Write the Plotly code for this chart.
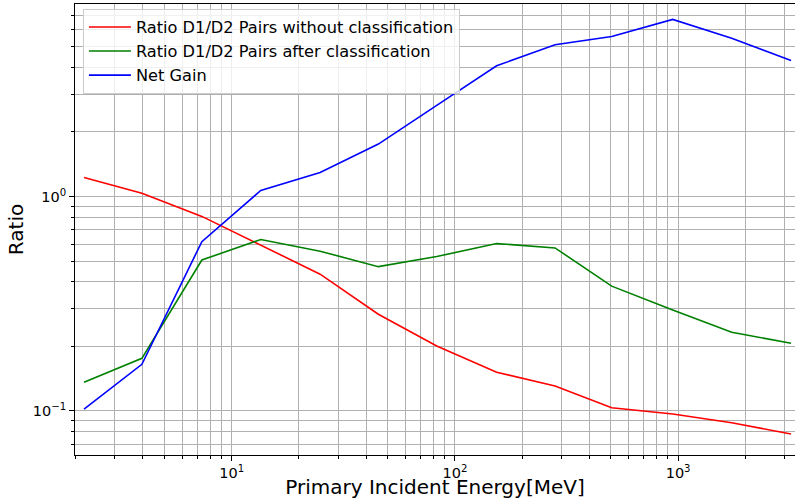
import plotly.graph_objects as go

# Data
energy_mev = [2.18, 3.96, 7.35, 13.5, 24.9, 45.4, 82.9, 153.8, 281, 504, 946, 1738, 3206]
ratio_without = [1.227, 1.037, 0.808, 0.595, 0.4345, 0.2826, 0.201, 0.1516, 0.1308, 0.1036, 0.0968, 0.0881, 0.0781]
ratio_after = [0.136, 0.176, 0.506, 0.630, 0.556, 0.471, 0.525, 0.6034, 0.576, 0.382, 0.296, 0.233, 0.207]
net_gain = [0.1021, 0.165, 0.616, 1.067, 1.294, 1.756, 2.66, 4.07, 5.10, 5.58, 6.70, 5.47, 4.31]

series_names = [
    "Ratio D1/D2 Pairs without classification",
    "Ratio D1/D2 Pairs after classification",
    "Net Gain",
]
series_colors = ["#ff0000", "#008000", "#0000ff"]

x_tick_vals = [10, 100, 1000]
x_tick_text = ["10<sup>1</sup>", "10<sup>2</sup>", "10<sup>3</sup>"]
y_tick_vals = [0.1, 1]
y_tick_text = ["10<sup>\u22121</sup>", "10<sup>0</sup>"]

x_minor = [m * 10 ** e for e in range(0, 4) for m in range(2, 10)]
y_minor = [m * 10.0 ** e for e in range(-2, 1) for m in range(2, 10)]

FONT = "DejaVu Sans"

fig = go.Figure()
for name, ys, col in zip(series_names, [ratio_without, ratio_after, net_gain], series_colors):
    fig.add_trace(go.Scatter(
        x=energy_mev, y=ys, mode="lines", name=name,
        line=dict(color=col, width=1.6),
    ))

axis_common = dict(
    type="log", automargin=False,
    showgrid=True, gridcolor="#b0b0b0", gridwidth=1,
    showline=True, linecolor="black", linewidth=1, mirror=True,
    ticks="outside", ticklen=5, tickwidth=1, tickcolor="black",
    tickfont=dict(family=FONT, size=14.5, color="black"),
    zeroline=False, tickmode="array",
)

fig.update_layout(
    width=795, height=499,
    margin=dict(l=75, r=0, t=4, b=44),
    paper_bgcolor="white", plot_bgcolor="white",
    font=dict(family=FONT, color="black"),
    showlegend=True,
    legend=dict(
        x=0.011, y=0.989, xanchor="left", yanchor="top",
        bgcolor="rgba(255,255,255,0.8)", bordercolor="#cccccc", borderwidth=1,
        font=dict(family=FONT, size=16.2, color="black"),
        itemwidth=42,
    ),
    xaxis=dict(
        **axis_common,
        range=[0.298, 3.5237],
        tickvals=x_tick_vals, ticktext=x_tick_text,
        minor=dict(tickmode="array", tickvals=x_minor, ticks="outside", ticklen=3,
                   tickcolor="black", showgrid=True, gridcolor="#b0b0b0", gridwidth=1),
        title=dict(text="Primary Incident Energy[MeV]", font=dict(family=FONT, size=20), standoff=5),
    ),
    yaxis=dict(
        **axis_common,
        range=[-1.2053, 0.8978],
        tickvals=y_tick_vals, ticktext=y_tick_text,
        minor=dict(tickmode="array", tickvals=y_minor, ticks="outside", ticklen=3,
                   tickcolor="black", showgrid=True, gridcolor="#b0b0b0", gridwidth=1),
        title=dict(text="Ratio", font=dict(family=FONT, size=20), standoff=3),
    ),
)

fig.write_html(
    "out.html",
    config={"displayModeBar": False},
    post_script="document.body.style.margin='0';document.body.style.overflow='hidden';",
)
